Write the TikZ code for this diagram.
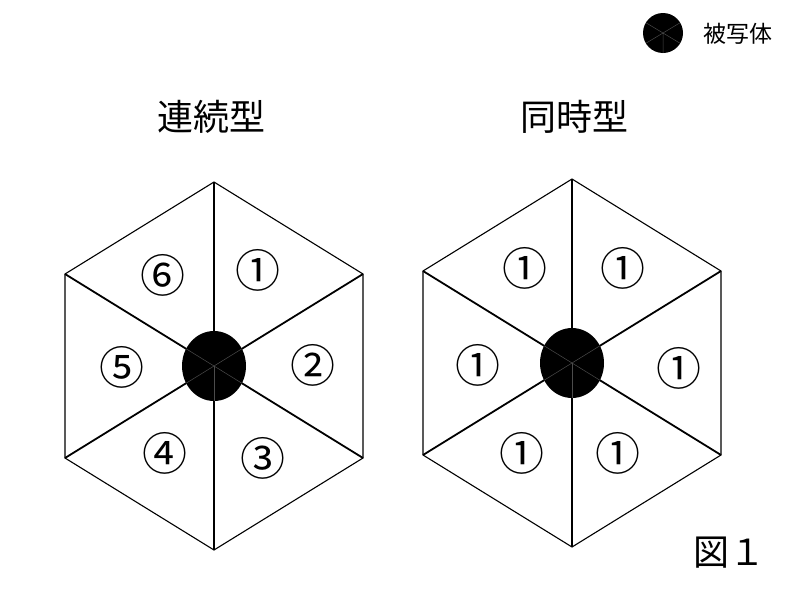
\documentclass[tikz,border=0pt]{standalone}
\usepackage{fontspec}
\setmainfont{Noto Sans CJK JP}
\usetikzlibrary{calc}

\begin{document}
\begin{tikzpicture}[x=1pt, y=-1pt,
    edge/.style={line width=1.1pt, line join=miter},
    spoke/.style={line width=1.8pt},
    faint/.style={line width=0.5pt, black!70},
    num/.style={font=\fontsize{45}{45}\selectfont},
    title/.style={font=\fontsize{36}{36}\selectfont}]

  \useasboundingbox[fill=white] (0,0) rectangle (800,600);

  % Legend
  \coordinate (obj) at (663,33);
  \fill (obj) ellipse [x radius=20pt, y radius=20pt];
  \begin{scope}
    \clip (obj) ellipse [x radius=20pt, y radius=20pt];
    \draw[faint] (obj) -- ++(20,12) (obj) -- ++(-20,12) (obj) -- ++(20,-12)
      (obj) -- ++(-20,-12) (obj) -- ++(0,20);
  \end{scope}
  \node[font=\fontsize{23}{23}\selectfont] (objlabel) at (738,34) {被写体};

  % Titles
  \node[title] (seq) at (211,117) {連続型};
  \node[title] (sim) at (574,117) {同時型};

  % Hexagons
  \foreach \h/\cx/\cy in {L/214/366, R/572/363} {
    \coordinate (\h0) at (\cx,\cy);
    \coordinate (\h1) at (\cx,\cy-184);
    \coordinate (\h2) at (\cx+149,\cy-92);
    \coordinate (\h3) at (\cx+149,\cy+92);
    \coordinate (\h4) at (\cx,\cy+184);
    \coordinate (\h5) at (\cx-149,\cy+92);
    \coordinate (\h6) at (\cx-149,\cy-92);
    \draw[edge] (\h1) -- (\h2) -- (\h3) -- (\h4) -- (\h5) -- (\h6) -- cycle;
    \foreach \k in {1,...,6} \draw[spoke] (\h0) -- (\h\k);
    \fill (\h0) ellipse [x radius=32pt, y radius=35pt];
    \begin{scope}
      \clip (\h0) ellipse [x radius=32pt, y radius=35pt];
      \foreach \k in {2,...,6} \draw[faint] (\h0) -- (\h\k);
    \end{scope}
  }

  % Order of shots (continuous)
  \node[num] (L-a) at (258,270) {①};
  \node[num] (L-b) at (313,365) {②};
  \node[num] (L-c) at (263,458) {③};
  \node[num] (L-d) at (165,453) {④};
  \node[num] (L-e) at (122,367) {⑤};
  \node[num] (L-f) at (163,275) {⑥};

  % All at once (simultaneous)
  \node[num] (R-a) at (623,268) {①};
  \node[num] (R-b) at (679,368) {①};
  \node[num] (R-c) at (618,453) {①};
  \node[num] (R-d) at (522,453) {①};
  \node[num] (R-e) at (478,365) {①};
  \node[num] (R-f) at (525,268) {①};

  \node[title] (fig) at (729,553) {図１};
\end{tikzpicture}
\end{document}
